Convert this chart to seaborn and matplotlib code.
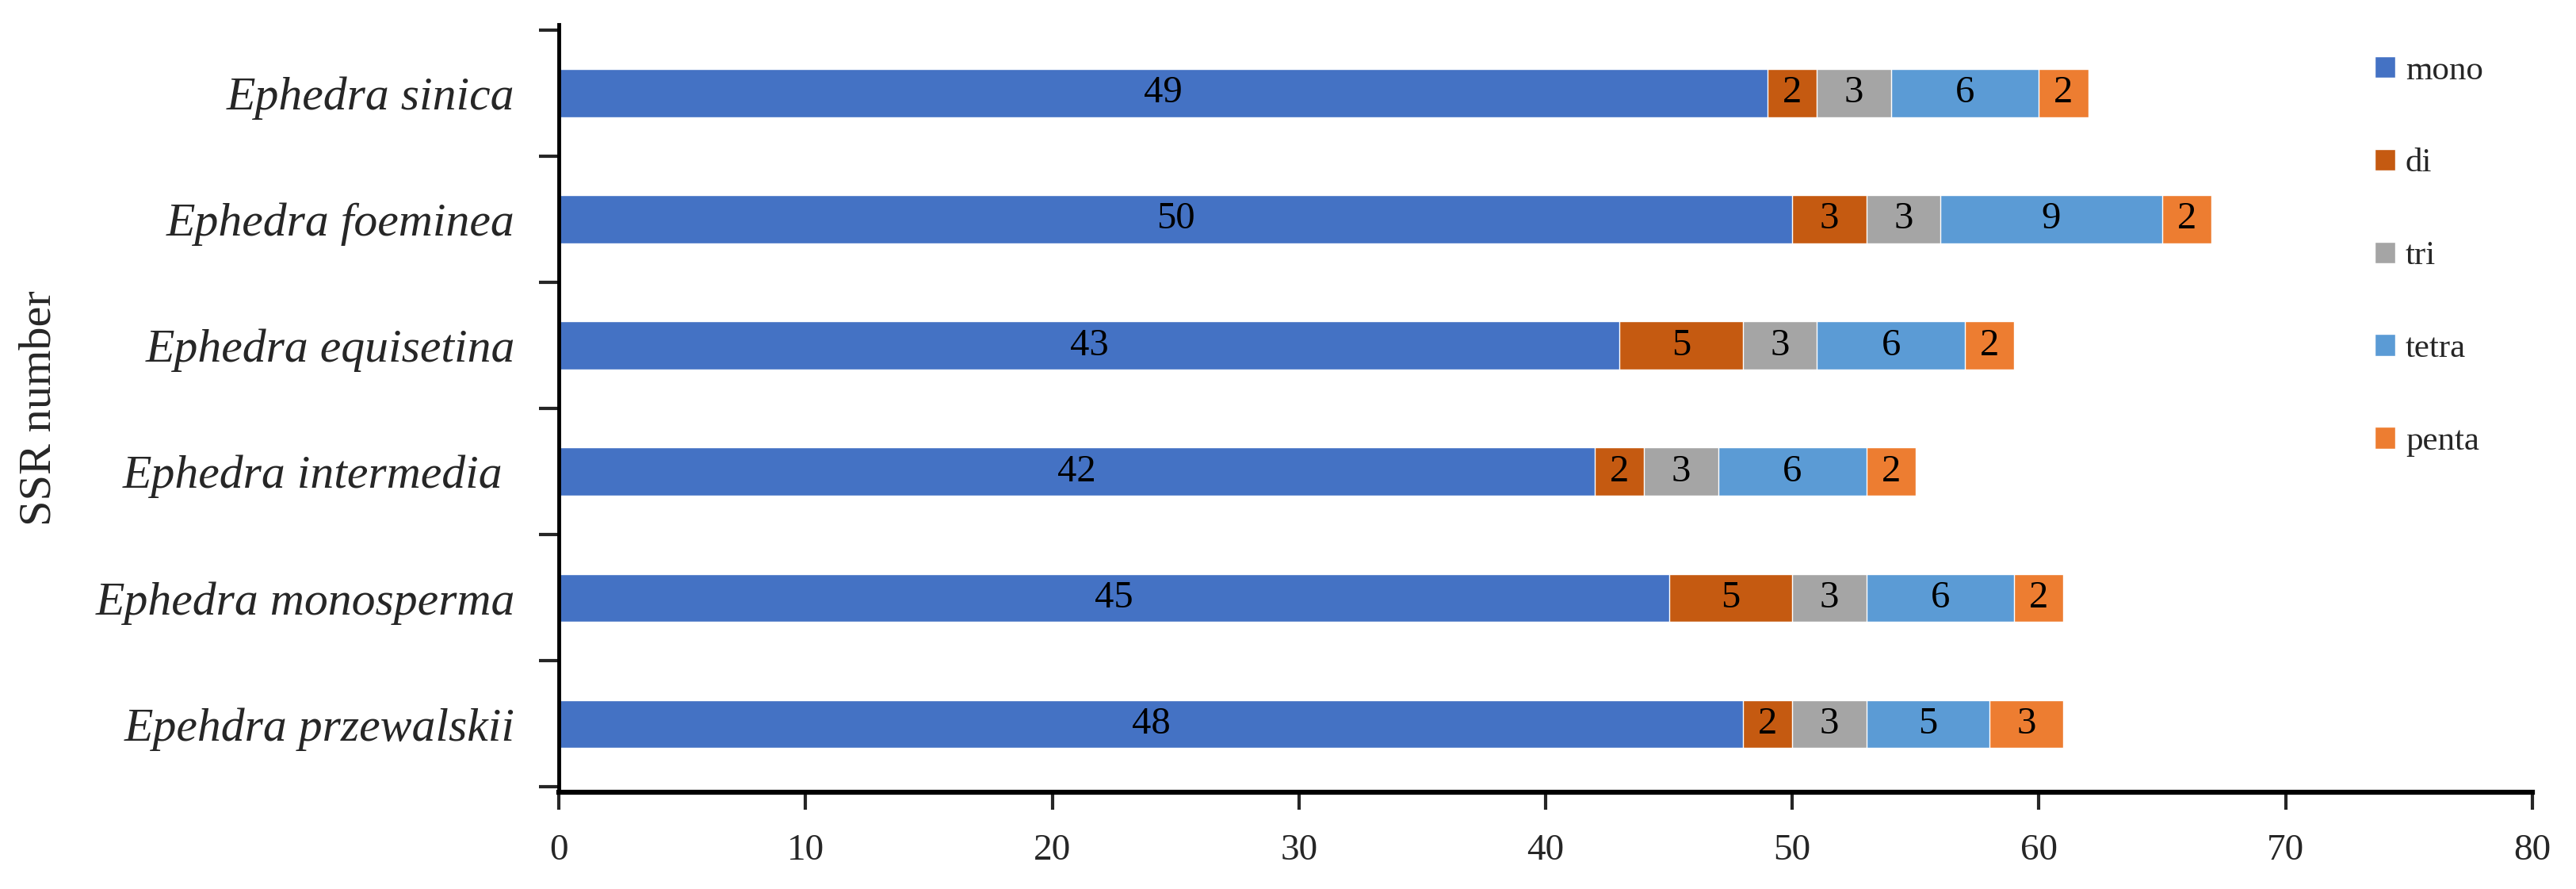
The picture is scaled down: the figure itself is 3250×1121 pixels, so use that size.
import numpy as np
import pandas as pd
import seaborn as sns
from matplotlib import pyplot as plt
from matplotlib.patches import Patch

species = ["Ephedra sinica", "Ephedra foeminea", "Ephedra equisetina",
           "Ephedra intermedia ", "Ephedra monosperma", "Epehdra przewalskii"]
repeat_types = ["mono", "di", "tri", "tetra", "penta"]
mono = [49, 50, 43, 42, 45, 48]
di = [2, 3, 5, 2, 5, 2]
tri = [3, 3, 3, 3, 3, 3]
tetra = [6, 9, 6, 6, 6, 5]
penta = [2, 2, 2, 2, 2, 3]

colors = ["#4472C4", "#C55A11", "#A5A5A5", "#5B9BD5", "#ED7D31"]

df = pd.DataFrame({"species": species, "mono": mono, "di": di, "tri": tri,
                   "tetra": tetra, "penta": penta})
cum = df[repeat_types].cumsum(axis=1)

sns.set_style("white")
plt.rcParams["font.family"] = ["Liberation Serif", "DejaVu Serif"]

fig, ax = plt.subplots(figsize=(32.5, 11.21), dpi=100)
fig.subplots_adjust(left=0.217, right=0.983, bottom=0.109, top=0.972)

# stacked bars: draw cumulative totals from the outermost segment inwards
for name, col in reversed(list(zip(repeat_types, colors))):
    sns.barplot(x=cum[name], y=df["species"], color=col, orient="h",
                width=0.38, saturation=1, ax=ax)

# segment labels
for i in range(len(species)):
    for name in repeat_types:
        v = df.loc[i, name]
        ax.text(cum.loc[i, name] - v / 2, i, str(v), ha="center", va="center",
                fontsize=35, color="black")

ax.set_xlim(0, 80)
ax.set_xticks(np.arange(0, 81, 10))
ax.set_ylim(5.54, -0.54)
ax.set_xlabel("")
ax.set_ylabel("SSR number", fontsize=42)
ax.yaxis.set_label_coords(-0.253, 0.5)

ax.tick_params(axis="x", labelsize=34, length=16, width=3, direction="out",
               pad=22, bottom=True)
ax.tick_params(axis="y", which="major", length=0, pad=40)
for lab in ax.get_yticklabels():
    lab.set_fontstyle("italic")
    lab.set_fontsize(43)
ax.set_yticks(np.arange(-0.5, 6, 1), minor=True)
ax.tick_params(axis="y", which="minor", length=18, width=3, direction="out", left=True)

for side in ["top", "right"]:
    ax.spines[side].set_visible(False)
ax.spines["left"].set_linewidth(3.5)
ax.spines["bottom"].set_linewidth(4.5)
ax.spines["left"].set_color("black")
ax.spines["bottom"].set_color("black")

handles = [Patch(facecolor=c, label=n) for n, c in zip(repeat_types, colors)]
fig.legend(handles=handles, loc="upper left", bbox_to_anchor=(0.91, 0.972),
           frameon=False, fontsize=31, handlelength=0.6, handleheight=0.6,
           handletextpad=0.3, labelspacing=1.82)

fig.savefig("out.png", dpi=100)
